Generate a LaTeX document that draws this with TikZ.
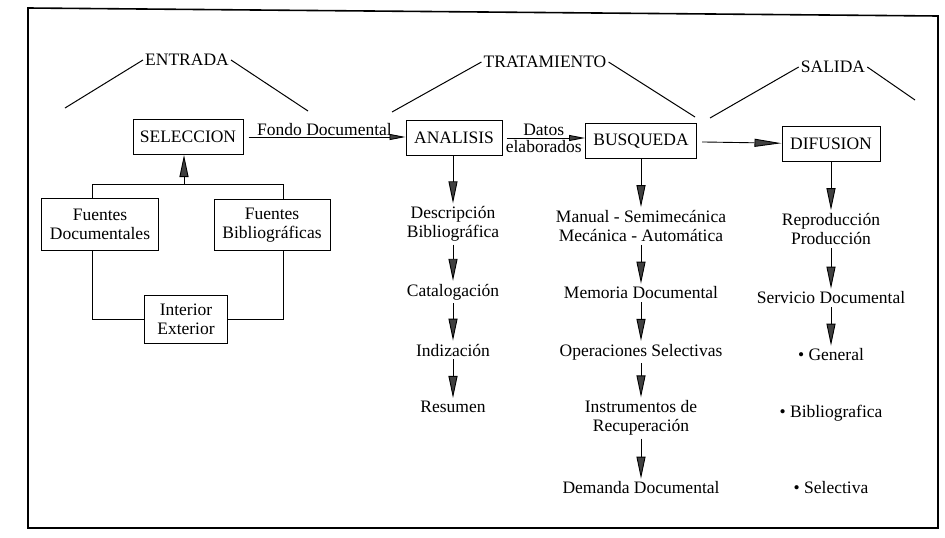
\documentclass[tikz,border=0pt]{standalone}
\usepackage{fontspec}
\setmainfont{Liberation Serif}
\usetikzlibrary{arrows.meta,positioning}

\begin{document}
\begin{tikzpicture}[
    x=1pt, y=-1pt,
    every node/.style={font=\fontsize{17.5}{19}\selectfont},
    box/.style={draw, line width=1pt, align=center, inner sep=0pt},
    etapa/.style={align=center, inner sep=3pt},
    fase/.style={inner sep=2pt},
    flow/.style={-{Triangle[length=22pt, width=9pt, fill=black!75]}, line width=0.9pt},
    hflow/.style={-{Triangle[length=16pt, width=6pt, fill=black!75]}, line width=0.9pt},
    rama/.style={line width=1pt},
    marco/.style={line width=1.6pt}
]
\useasboundingbox (0,0) rectangle (945,538);
\draw[marco] (28,8) -- (938,16) -- (938,528) -- (28,528) -- cycle;

% fases
\node[fase] (entrada) at (187,60) {ENTRADA};
\node[fase] (tratamiento) at (545,62) {TRATAMIENTO};
\node[fase] (salida) at (833,67) {SALIDA};
\coordinate (e1) at (65,108);
\coordinate (e2) at (308,111);
\coordinate (t1) at (392,112);
\coordinate (t2) at (695,117);
\coordinate (s1) at (710,118);
\coordinate (s2) at (915,100);
\draw[rama] (e1) -- (entrada.west);
\draw[rama] (entrada.east) -- (e2);
\draw[rama] (t1) -- (tratamiento.west);
\draw[rama] (tratamiento.east) -- (t2);
\draw[rama] (s1) -- (salida.west);
\draw[rama] (salida.east) -- (s2);

% cajas
\node[box, minimum width=110pt, minimum height=35pt] (seleccion) at (188,137) {SELECCION};
\node[box, minimum width=96pt, minimum height=35pt] (analisis) at (454,138) {ANALISIS};
\node[box, minimum width=111pt, minimum height=35pt] (busqueda) at (641,141) {BUSQUEDA};
\node[box, minimum width=98pt, minimum height=35pt] (difusion) at (831,144) {DIFUSION};
\node[box, minimum width=117pt, minimum height=52pt] (fdoc) at (100,224) {Fuentes\\Documentales};
\node[box, minimum width=116pt, minimum height=51pt] (fbib) at (272,225) {Fuentes\\Bibliográficas};
\node[box, minimum width=83pt, minimum height=48pt] (interior) at (186,319) {Interior\\Exterior};

\draw[hflow, shorten <=5pt] (seleccion) -- node[above, inner sep=1pt] (fondo) {Fondo Documental} (seleccion -| analisis.west);
\draw[hflow, shorten <=4pt] (analisis) -- node[above, inner sep=2pt] (datos) {Datos} node[below, inner sep=2pt] (elab) {elaborados} (analisis -| busqueda.west);
\draw[flow, -{Triangle[length=27pt, width=8pt, fill=black!75]}, shorten <=5pt] (busqueda) -- (difusion);

% entrada
\coordinate (jl) at (92,184);
\coordinate (jr) at (283,184);
\coordinate (jm) at (184,184);
\draw[rama] (fdoc.north -| jl) -- (jl) -- (jr) -- (fbib.north -| jr);
\draw[flow] (jm) -- (seleccion.south -| jm);
\draw[rama] (fdoc.south -| jl) |- (interior.west);
\draw[rama] (fbib.south -| jr) |- (interior.east);

% analisis
\node[etapa] (desc) at (453,224) {Descripción\\Bibliográfica};
\node[etapa] (catal) at (453,292) {Catalogación};
\node[etapa] (indiz) at (453,350) {Indización};
\node[etapa] (resumen) at (453,407) {Resumen};
\draw[flow] (analisis.south -| desc) -- (desc);
\draw[flow] (desc) -- (catal);
\draw[flow] (catal) -- (indiz);
\draw[flow] (indiz) -- (resumen);

% busqueda
\node[etapa] (manual) at (641,226) {Manual - Semimecánica\\Mecánica - Automática};
\node[etapa] (memoria) at (641,293) {Memoria Documental};
\node[etapa] (operac) at (641,352) {Operaciones Selectivas};
\node[etapa] (instr) at (641,418) {Instrumentos de\\Recuperación};
\node[etapa] (demanda) at (641,488) {Demanda Documental};
\draw[flow] (busqueda) -- (manual);
\draw[flow] (manual) -- (memoria);
\draw[flow] (memoria) -- (operac);
\draw[flow] (operac) -- (instr);
\draw[flow] (instr) -- (demanda);

% difusion
\node[etapa] (repro) at (831,229) {Reproducción\\Producción};
\node[etapa] (servicio) at (831,298) {Servicio Documental};
\node[etapa] (general) at (831,355) {\textbullet\ General};
\node[etapa] (bibliog) at (831,413) {\textbullet\ Bibliografica};
\node[etapa] (selectiva) at (831,488) {\textbullet\ Selectiva};
\draw[flow] (difusion) -- (repro);
\draw[flow] (repro) -- (servicio);
\draw[flow] (servicio) -- (general);
\end{tikzpicture}
\end{document}
